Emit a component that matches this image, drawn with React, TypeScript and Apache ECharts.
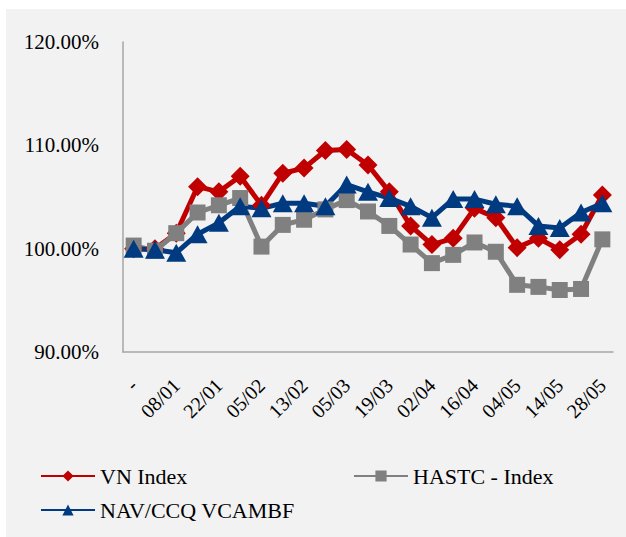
import React, { useEffect, useRef } from "react";
import * as echarts from "echarts";

const categories = ["-", "02/01", "08/01", "15/01", "22/01", "29/01", "05/02", "07/02", "13/02", "27/02", "05/03", "12/03", "19/03", "26/03", "02/04", "09/04", "16/04", "23/04", "04/05", "07/05", "14/05", "21/05", "28/05"];
const vnIndex = [100, 100, 101.5, 106.0, 105.5, 107.0, 104.2, 107.3, 107.8, 109.5, 109.6, 108.1, 105.5, 102.2, 100.4, 101.0, 103.9, 103.0, 100.1, 101.0, 99.9, 101.4, 105.2];
const hastc = [100.3, 99.8, 101.5, 103.5, 104.2, 104.9, 100.2, 102.3, 102.8, 103.8, 104.7, 103.6, 102.2, 100.4, 98.6, 99.4, 100.6, 99.7, 96.5, 96.3, 96.0, 96.1, 100.9];
const nav = [100, 99.9, 99.6, 101.4, 102.5, 104.1, 103.9, 104.4, 104.4, 104.1, 106.2, 105.5, 104.9, 104.1, 103.0, 104.8, 104.8, 104.3, 104.1, 102.2, 102.0, 103.5, 104.4];
const seriesNames = ["VN Index", "HASTC - Index", "NAV/CCQ VCAMBF"];

const FONT = "'Liberation Serif', serif";

export default function App() {
  const ref = useRef<HTMLDivElement>(null);
  useEffect(() => {
    if (!ref.current) return;
    const chart = echarts.init(ref.current, null, { renderer: "svg" });
    const legendText = { fontFamily: FONT, fontSize: 22, color: "#000", fontWeight: "normal" };
    const legendBase = { itemWidth: 54, itemHeight: 14, itemGap: 4, padding: 0, textStyle: legendText };
    chart.setOption({
      animation: false,
      backgroundColor: "#ffffff",
      textStyle: { fontFamily: FONT },
      graphic: [
        { type: "rect", z: -10, shape: { x: 6, y: 9, width: 620, height: 528 }, style: { fill: "#f2f2f2" } },
      ],
      grid: { left: 123, right: 13, top: 42, bottom: 185, containLabel: false },
      legend: [
        { ...legendBase, data: [seriesNames[0]], left: 40, top: 465 },
        { ...legendBase, data: [seriesNames[1]], left: 353, top: 465 },
        { ...legendBase, data: [seriesNames[2]], left: 40, top: 499 },
      ],
      xAxis: {
        type: "category",
        data: categories,
        boundaryGap: true,
        axisLine: { lineStyle: { color: "#a6a6a6", width: 1.5 } },
        axisTick: { show: false },
        axisLabel: { interval: 1, rotate: 45, margin: 30, fontFamily: FONT, fontSize: 20, color: "#000" },
      },
      yAxis: {
        type: "value",
        min: 90,
        max: 120,
        interval: 10,
        axisLine: { show: true, lineStyle: { color: "#a6a6a6", width: 1.5 } },
        axisTick: { show: false },
        splitLine: { show: false },
        axisLabel: { margin: 24, fontFamily: FONT, fontSize: 21, color: "#000", formatter: (v: number) => v.toFixed(2) + "%" },
      },
      series: [
        {
          name: seriesNames[0], type: "line", data: vnIndex, symbol: "diamond", symbolSize: 19, showAllSymbol: true,
          lineStyle: { color: "#c00000", width: 5 }, itemStyle: { color: "#c00000" },
        },
        {
          name: seriesNames[1], type: "line", data: hastc, symbol: "rect", symbolSize: 16, showAllSymbol: true,
          lineStyle: { color: "#808080", width: 5 }, itemStyle: { color: "#808080" },
        },
        {
          name: seriesNames[2], type: "line", data: nav, symbol: "triangle", symbolSize: [20, 18], showAllSymbol: true,
          lineStyle: { color: "#003a80", width: 5 }, itemStyle: { color: "#003a80" },
        },
      ],
    });
    return () => chart.dispose();
  }, []);
  return <div ref={ref} style={{ position: "absolute", left: 0, top: 0, width: 626, height: 537 }} />;
}
